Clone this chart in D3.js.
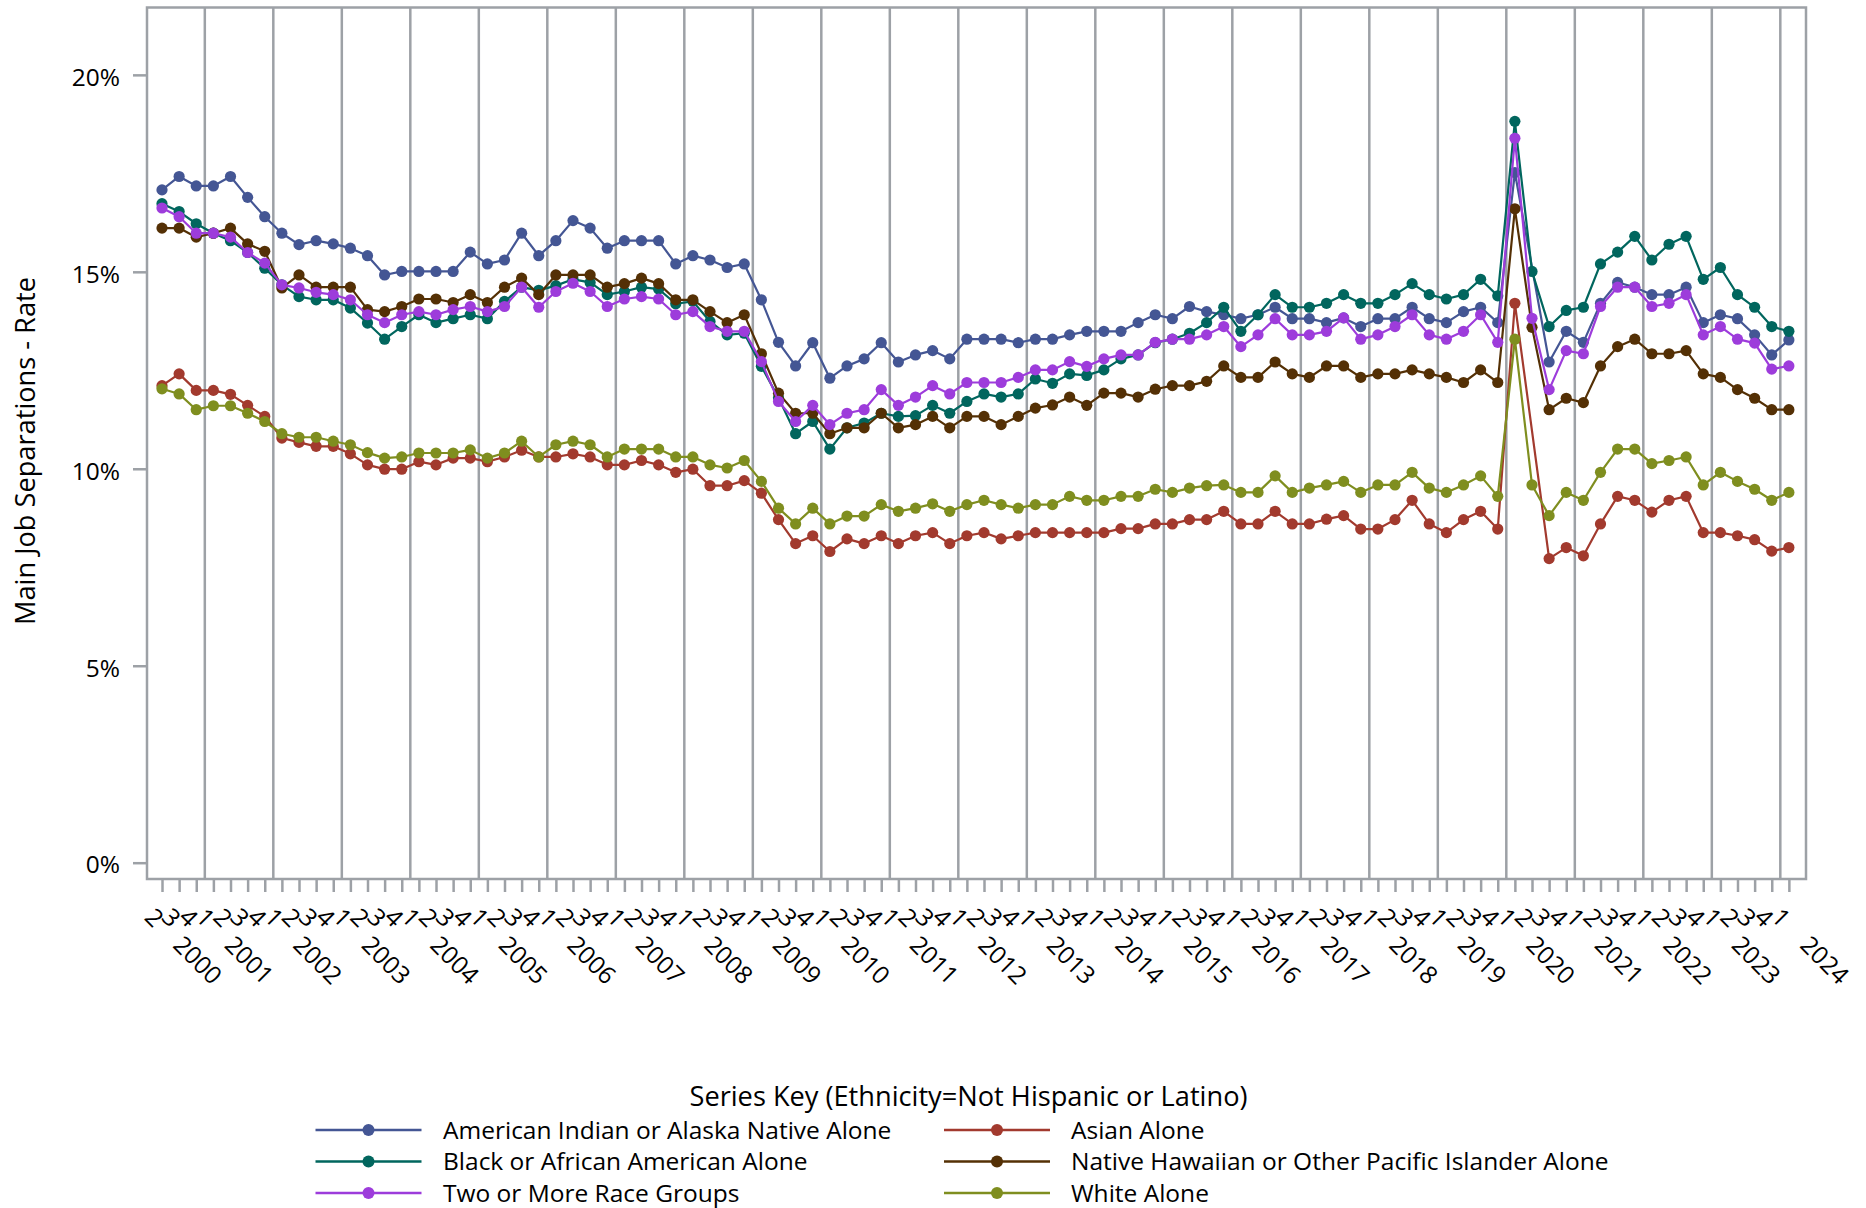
<!DOCTYPE html>
<html>
<head>
<meta charset="utf-8">
<script src="https://cdn.jsdelivr.net/npm/d3@7"></script>
<style>
  html, body { margin: 0; padding: 0; background: #ffffff; }
  svg { display: block; font-family: "Open Sans", "Noto Sans", sans-serif; }
</style>
</head>
<body>
<svg id="chart" width="1866" height="1208"></svg>
<script>
// ---------------- DATA ----------------
const periods = [
  "2000Q2","2000Q3","2000Q4",
  "2001Q1","2001Q2","2001Q3","2001Q4",
  "2002Q1","2002Q2","2002Q3","2002Q4",
  "2003Q1","2003Q2","2003Q3","2003Q4",
  "2004Q1","2004Q2","2004Q3","2004Q4",
  "2005Q1","2005Q2","2005Q3","2005Q4",
  "2006Q1","2006Q2","2006Q3","2006Q4",
  "2007Q1","2007Q2","2007Q3","2007Q4",
  "2008Q1","2008Q2","2008Q3","2008Q4",
  "2009Q1","2009Q2","2009Q3","2009Q4",
  "2010Q1","2010Q2","2010Q3","2010Q4",
  "2011Q1","2011Q2","2011Q3","2011Q4",
  "2012Q1","2012Q2","2012Q3","2012Q4",
  "2013Q1","2013Q2","2013Q3","2013Q4",
  "2014Q1","2014Q2","2014Q3","2014Q4",
  "2015Q1","2015Q2","2015Q3","2015Q4",
  "2016Q1","2016Q2","2016Q3","2016Q4",
  "2017Q1","2017Q2","2017Q3","2017Q4",
  "2018Q1","2018Q2","2018Q3","2018Q4",
  "2019Q1","2019Q2","2019Q3","2019Q4",
  "2020Q1","2020Q2","2020Q3","2020Q4",
  "2021Q1","2021Q2","2021Q3","2021Q4",
  "2022Q1","2022Q2","2022Q3","2022Q4",
  "2023Q1","2023Q2","2023Q3","2023Q4",
  "2024Q1"
];

const seriesNames = [
  "American Indian or Alaska Native Alone",
  "Asian Alone",
  "Black or African American Alone",
  "Native Hawaiian or Other Pacific Islander Alone",
  "Two or More Race Groups",
  "White Alone"
];

const americanIndian = [
  17.08,17.42,17.18,17.18,17.42,16.89,16.40,15.98,15.69,15.79,15.71,15.60,15.41,14.92,15.01,15.01,15.01,15.01,15.50,15.20,15.30,15.98,15.41,15.79,16.30,16.11,15.60,
  15.79,15.79,15.79,15.20,15.41,15.30,15.11,15.20,14.29,13.21,12.61,13.20,12.30,12.61,12.79,13.20,12.71,12.89,13.00,12.79,13.29,13.29,13.29,13.20,13.29,13.29,13.40,13.49,13.49,13.49,13.71,13.91,13.81,14.12,13.99,
  13.91,13.81,13.91,14.10,13.81,13.81,13.71,13.83,13.61,13.81,13.81,14.10,13.81,13.71,13.99,14.10,13.71,17.52,null,12.71,13.49,13.21,14.20,14.73,14.61,14.42,14.42,14.61,13.71,13.91,13.81,13.40,12.89,13.27
];
const asian = [
  12.11,12.41,11.99,11.99,11.89,11.61,11.33,10.78,10.67,10.57,10.57,10.38,10.10,9.99,9.99,10.18,10.10,10.27,10.27,10.18,10.30,10.47,10.30,10.30,10.38,10.30,10.10,
  10.10,10.21,10.10,9.91,9.99,9.57,9.57,9.70,9.38,8.71,8.10,8.30,7.90,8.22,8.10,8.30,8.10,8.30,8.38,8.10,8.30,8.38,8.22,8.30,8.38,8.38,8.38,8.38,8.38,8.48,8.48,8.60,8.60,8.71,8.71,
  8.92,8.60,8.60,8.92,8.60,8.60,8.72,8.81,8.47,8.47,8.71,9.20,8.60,8.38,8.71,8.92,8.47,14.20,null,7.72,8.00,7.79,8.60,9.30,9.20,8.90,9.20,9.30,8.38,8.38,8.30,8.20,7.91,8.00
];
const black = [
  16.73,16.53,16.22,15.98,15.79,15.49,15.09,14.67,14.37,14.29,14.29,14.08,13.70,13.29,13.61,13.91,13.71,13.81,13.91,13.81,14.25,14.61,14.53,14.65,14.81,14.73,14.42,
  14.50,14.61,14.56,14.19,14.25,13.74,13.40,13.44,12.60,11.80,10.89,11.20,10.50,11.04,11.16,11.41,11.33,11.35,11.61,11.41,11.71,11.90,11.82,11.90,12.28,12.17,12.41,12.37,12.51,12.79,12.89,13.20,13.29,13.44,13.71,
  14.10,13.49,13.91,14.42,14.10,14.10,14.20,14.42,14.20,14.20,14.42,14.70,14.42,14.31,14.42,14.81,14.39,18.82,15.01,13.61,14.02,14.10,15.20,15.50,15.90,15.30,15.70,15.90,14.81,15.11,14.42,14.10,13.61,13.49
];
const nativeHawaiian = [
  16.11,16.11,15.88,15.98,16.11,15.71,15.52,14.59,14.92,14.61,14.61,14.61,14.04,13.99,14.12,14.31,14.31,14.22,14.42,14.22,14.61,14.84,14.42,14.92,14.92,14.92,14.61,
  14.70,14.84,14.70,14.29,14.29,13.99,13.71,13.91,12.92,11.92,11.41,11.41,10.89,11.04,11.04,11.41,11.04,11.12,11.33,11.04,11.33,11.33,11.12,11.33,11.54,11.62,11.82,11.61,11.92,11.92,11.82,12.02,12.11,12.11,12.22,
  12.61,12.32,12.32,12.71,12.41,12.32,12.61,12.61,12.32,12.41,12.41,12.51,12.41,12.32,12.19,12.51,12.19,16.60,13.59,11.50,11.79,11.68,12.61,13.10,13.29,12.92,12.92,13.00,12.41,12.32,12.01,11.79,11.50,11.50
];
const twoOrMore = [
  16.62,16.40,15.98,15.98,15.88,15.49,15.22,14.67,14.59,14.48,14.42,14.29,13.91,13.71,13.91,13.99,13.91,14.04,14.12,13.99,14.12,14.61,14.10,14.50,14.71,14.50,14.12,
  14.31,14.37,14.31,13.91,13.99,13.61,13.49,13.49,12.72,11.71,11.20,11.61,11.12,11.41,11.50,12.01,11.61,11.82,12.11,11.90,12.19,12.19,12.19,12.32,12.51,12.51,12.72,12.60,12.79,12.89,12.89,13.21,13.29,13.29,13.40,
  13.61,13.10,13.40,13.81,13.40,13.40,13.49,13.83,13.29,13.40,13.61,13.91,13.40,13.29,13.49,13.91,13.21,18.39,13.82,12.01,13.00,12.92,14.12,14.61,14.61,14.12,14.20,14.42,13.40,13.61,13.29,13.19,12.53,12.61
];
const white = [
  12.03,11.90,11.50,11.60,11.60,11.41,11.20,10.89,10.80,10.80,10.70,10.61,10.41,10.27,10.30,10.40,10.40,10.40,10.48,10.27,10.40,10.70,10.30,10.61,10.70,10.61,10.30,
  10.50,10.50,10.50,10.30,10.30,10.10,10.02,10.21,9.68,9.00,8.60,9.00,8.60,8.80,8.80,9.09,8.92,9.00,9.11,8.92,9.09,9.20,9.09,9.00,9.09,9.09,9.30,9.20,9.20,9.30,9.30,9.48,9.40,9.51,9.57,
  9.59,9.40,9.40,9.82,9.40,9.51,9.59,9.68,9.40,9.59,9.59,9.91,9.51,9.40,9.59,9.82,9.30,13.29,9.59,8.81,9.40,9.20,9.91,10.50,10.50,10.13,10.21,10.30,9.59,9.91,9.68,9.48,9.20,9.40
];

const seriesValues = [americanIndian, asian, black, nativeHawaiian, twoOrMore, white];
const seriesColors = ["#445694", "#A23A2E", "#01665E", "#543005", "#9D3CDB", "#7F8E1F"];

const yTickValues = [0, 5, 10, 15, 20];
const yTickLabels = ["0%", "5%", "10%", "15%", "20%"];

const yAxisTitle = "Main Job Separations - Rate";
const legendTitle = "Series Key (Ethnicity=Not Hispanic or Latino)";

// ---------------- LAYOUT ----------------
const svg = d3.select("#chart");
const frame = { left: 147, right: 1806, top: 7.5, bottom: 879 };
const gridColor = "#9da1a6";
const tickFont = 24.5;
const labelFont = 27.2;

const x = d3.scaleLinear().domain([-0.876, 96]).range([frame.left, frame.right]);
const y = d3.scaleLinear().domain([-0.414, 21.71]).range([frame.bottom, frame.top]);

svg.append("rect").attr("width", 1866).attr("height", 1208).attr("fill", "#ffffff");

// Vertical year-boundary gridlines
const boundaries = periods.map((p, i) => i).filter(i => i > 0 && periods[i].endsWith("Q1"));
svg.append("g").selectAll("line").data(boundaries).join("line")
  .attr("x1", d => x(d - 0.5)).attr("x2", d => x(d - 0.5))
  .attr("y1", frame.top).attr("y2", frame.bottom)
  .attr("stroke", gridColor).attr("stroke-width", 2.5);

// Frame
svg.append("rect")
  .attr("x", frame.left).attr("y", frame.top)
  .attr("width", frame.right - frame.left).attr("height", frame.bottom - frame.top)
  .attr("fill", "none").attr("stroke", gridColor).attr("stroke-width", 2.5);

// Y axis
const yAxis = d3.axisLeft(y).tickValues(yTickValues)
  .tickFormat((d, i) => yTickLabels[i]).tickSize(14).tickPadding(13);
const gy = svg.append("g").attr("transform", `translate(${frame.left},0)`).call(yAxis);
gy.select(".domain").remove();
gy.selectAll(".tick line").attr("stroke", gridColor).attr("stroke-width", 2.5);
gy.selectAll(".tick text").attr("font-size", tickFont).attr("fill", "#000")
  .attr("font-family", "Open Sans").attr("dy", "0.42em");

// X axis (quarter ticks)
const idx = periods.map((p, i) => i);
const xAxis = d3.axisBottom(x).tickValues(idx).tickSize(13).tickFormat("");
const gx = svg.append("g").attr("transform", `translate(0,${frame.bottom})`).call(xAxis);
gx.select(".domain").remove();
gx.selectAll(".tick line").attr("stroke", gridColor).attr("stroke-width", 2.5);

// Quarter labels
svg.append("g").selectAll("text").data(idx).join("text")
  .attr("transform", d => `translate(${x(d) - 7.7},917.5) rotate(45)`)
  .attr("text-anchor", "middle").attr("dy", "0.357em")
  .attr("font-size", tickFont).attr("fill", "#000")
  .text(d => periods[d].slice(5));

// Year labels at first quarter of each year
const yearStarts = idx.filter(i => i === 0 || periods[i].endsWith("Q1"));
svg.append("g").selectAll("text").data(yearStarts).join("text")
  .attr("transform", d => `translate(${x(d) + 35.8},960) rotate(45)`)
  .attr("text-anchor", "middle").attr("dy", "0.357em")
  .attr("font-size", tickFont).attr("fill", "#000")
  .text(d => periods[d].slice(0, 4));

// Y axis title
svg.append("text")
  .attr("transform", "translate(35,451) rotate(-90)")
  .attr("text-anchor", "middle").attr("font-size", labelFont).attr("fill", "#000")
  .text(yAxisTitle);

// Series lines and markers
const line = d3.line().x(d => x(d[0])).y(d => y(d[1]));
const gs = svg.append("g");
seriesValues.forEach((vals, s) => {
  const pts = vals.map((v, i) => [i, v]).filter(d => d[1] !== null);
  gs.append("path").datum(pts).attr("d", line)
    .attr("fill", "none").attr("stroke", seriesColors[s]).attr("stroke-width", 2.2)
    .attr("stroke-linejoin", "round");
  gs.append("g").selectAll("circle").data(pts).join("circle")
    .attr("cx", d => x(d[0])).attr("cy", d => y(d[1])).attr("r", 5.6)
    .attr("fill", seriesColors[s]);
});

// Legend
svg.append("text").attr("x", 968.5).attr("y", 1106)
  .attr("text-anchor", "middle").attr("font-size", labelFont).attr("fill", "#000")
  .text(legendTitle);

const legCols = [
  { x1: 315.5, x2: 421.5, mx: 368.5, tx: 443 },
  { x1: 944, x2: 1050, mx: 997, tx: 1071 }
];
const legRows = [1130, 1161.5, 1193];
seriesNames.forEach((name, s) => {
  const c = legCols[s % 2], ry = legRows[Math.floor(s / 2)];
  const g = svg.append("g");
  g.append("line").attr("x1", c.x1).attr("x2", c.x2).attr("y1", ry).attr("y2", ry)
    .attr("stroke", seriesColors[s]).attr("stroke-width", 2.6);
  g.append("circle").attr("cx", c.mx).attr("cy", ry).attr("r", 6).attr("fill", seriesColors[s]);
  g.append("text").attr("x", c.tx).attr("y", ry + 8.5).attr("font-size", tickFont).attr("fill", "#000")
    .text(name);
});
</script>
</body>
</html>
